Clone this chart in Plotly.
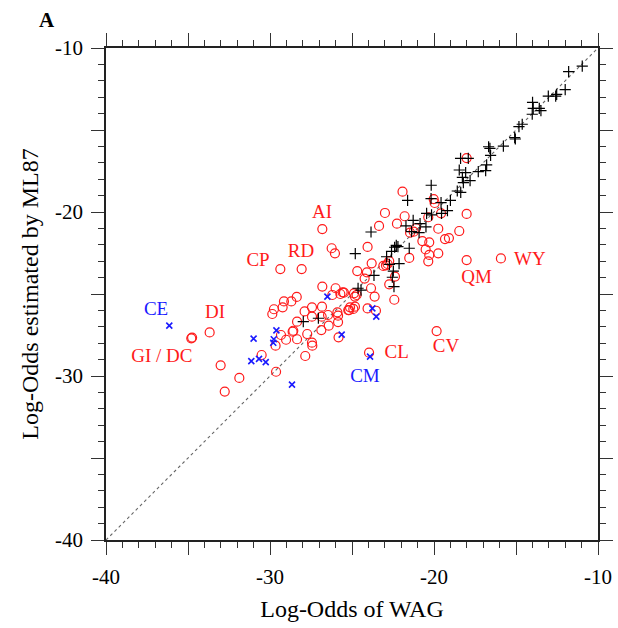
import plotly.graph_objects as go

# ---------------------------------------------------------------------------
# Data
# ---------------------------------------------------------------------------
# black "+" : pairs close to the diagonal
plus_x = [-10.96, -11.79, -12.00, -12.52, -12.58, -13.03, -13.99, -13.58, -13.48, -13.95,
          -14.01, -14.62, -14.82, -15.08, -15.04, -15.77, -16.67, -16.59, -16.55, -16.79,
          -16.85, -17.30, -18.38, -17.91, -18.46, -18.07, -18.27, -17.80, -18.21, -18.58,
          -18.37, -20.17, -20.18, -21.61, -19.57, -19.00, -19.18, -19.54, -20.45, -20.15,
          -21.27, -20.85, -21.71, -20.49, -20.91, -21.37, -23.84, -22.30, -22.20, -22.40,
          -22.59, -21.51, -24.80, -22.89, -22.13, -22.72, -22.48, -23.66, -22.54, -22.44,
          -24.63, -24.45, -27.97, -27.05]
plus_y = [-11.10, -11.44, -12.54, -12.83, -12.93, -12.93, -13.31, -13.68, -13.82, -13.68,
          -14.04, -14.65, -14.80, -15.47, -15.55, -15.98, -16.02, -16.12, -16.55, -17.13,
          -17.48, -17.54, -16.73, -16.73, -17.44, -17.60, -17.89, -18.09, -18.21, -18.72,
          -18.80, -18.37, -19.19, -19.29, -19.43, -19.29, -19.92, -20.08, -20.08, -20.18,
          -20.51, -20.71, -20.85, -20.91, -21.26, -21.20, -21.22, -22.03, -22.11, -22.15,
          -22.40, -22.21, -22.54, -22.73, -23.15, -23.19, -23.60, -23.86, -23.98, -24.55,
          -24.65, -24.76, -26.69, -26.48]

# red open circles
circ_x = [-26.81, -26.24, -26.04, -29.37, -28.07, -26.81, -26.00, -18.01, -21.92, -22.99,
          -21.79, -20.02, -19.96, -19.57, -18.01, -20.35, -22.26, -23.35, -21.10, -21.24,
          -21.46, -19.74, -18.46, -20.71, -20.29, -19.09, -19.33, -20.51, -19.74, -20.29,
          -21.51, -20.35, -24.05, -23.80, -24.68, -24.09, -24.23, -23.09, -22.83, -22.73,
          -22.93, -22.38, -22.73, -18.01, -15.92, -23.84,
          -34.80, -34.75, -33.68, -33.01, -31.87, -32.76, -30.51, -29.66, -29.63, -29.86,
          -29.76, -29.23, -29.15, -28.70, -28.37, -27.89, -28.35, -29.33, -29.02, -28.58,
          -28.62, -28.35, -27.73, -27.44, -27.42, -27.85, -27.44, -26.83, -26.20, -25.71,
          -25.49, -27.44, -26.85, -26.46, -25.89, -25.85, -25.85, -26.42, -26.87, -25.82,
          -25.18, -23.62, -24.88, -24.72, -24.82, -25.57, -25.12, -24.92, -24.82, -25.23,
          -24.05, -23.54, -22.42, -19.84, -23.96]
circ_y = [-21.04, -22.21, -22.52, -23.48, -23.48, -24.55, -24.65, -16.71, -18.76, -20.06,
          -20.26, -19.21, -19.45, -20.08, -20.12, -20.32, -20.71, -20.85, -20.99, -21.20,
          -21.26, -21.02, -21.16, -21.77, -21.85, -21.59, -21.65, -22.28, -22.52, -22.62,
          -22.80, -23.01, -22.13, -23.13, -23.60, -23.68, -24.06, -23.29, -23.17, -22.99,
          -23.25, -23.94, -24.41, -22.93, -22.83, -24.65,
          -27.70, -27.66, -27.34, -29.35, -30.12, -30.95, -28.72, -28.15, -29.74, -26.22,
          -25.93, -25.81, -25.45, -25.45, -25.18, -26.06, -26.69, -27.50, -27.79, -27.24,
          -27.30, -27.76, -27.44, -27.97, -28.15, -28.78, -25.81, -25.77, -25.06, -25.00,
          -24.92, -26.38, -26.38, -26.28, -26.12, -26.32, -26.71, -26.93, -27.20, -27.64,
          -25.98, -25.16, -24.96, -25.06, -25.16, -24.90, -25.81, -25.91, -25.77, -25.98,
          -25.88, -26.02, -25.35, -27.26, -28.58]

# blue "x"
cross_x = [-36.14, -31.00, -29.61, -29.77, -29.80, -31.14, -30.67, -30.26, -28.66, -26.50,
           -25.63, -23.76, -23.52, -23.90]
cross_y = [-26.93, -27.72, -27.22, -27.76, -27.97, -29.09, -28.96, -29.15, -30.53, -25.16,
           -27.48, -25.88, -26.38, -28.82]

# labels
red_labels = ["AI", "RD", "CP", "DI", "GI / DC", "CL", "CV", "QM", "WY"]
red_lab_x = [-26.83, -28.11, -30.73, -33.35, -36.59, -22.28, -19.27, -17.40, -14.15]
red_lab_y = [-20.06, -22.44, -22.99, -26.16, -28.84, -28.62, -28.25, -24.04, -22.93]
blue_labels = ["CE", "CM"]
blue_lab_x = [-36.95, -24.21]
blue_lab_y = [-25.98, -30.06]

SERIF = "Liberation Serif, Times New Roman, serif"

fig = go.Figure()

# diagonal y = x
fig.add_trace(go.Scatter(
    x=[-40, -10], y=[-40, -10], mode="lines",
    line=dict(color="#666", width=1.1, dash="dot"),
    hoverinfo="skip", showlegend=False,
))

fig.add_trace(go.Scatter(
    x=circ_x, y=circ_y, mode="markers",
    marker=dict(symbol="circle-open", size=9, color="#ff1a1a", line=dict(width=1.2)),
    showlegend=False,
))
fig.add_trace(go.Scatter(
    x=plus_x, y=plus_y, mode="markers",
    marker=dict(symbol="cross-thin-open", size=8, color="black", line=dict(width=1.2, color="black")),
    showlegend=False,
))
fig.add_trace(go.Scatter(
    x=cross_x, y=cross_y, mode="markers",
    marker=dict(symbol="x-thin-open", size=6, color="#1a1aff", line=dict(width=1.6, color="#1a1aff")),
    showlegend=False,
))

fig.add_trace(go.Scatter(
    x=red_lab_x, y=red_lab_y, mode="text", text=red_labels,
    textfont=dict(family=SERIF, size=19, color="#ff1a1a"),
    hoverinfo="skip", showlegend=False,
))
fig.add_trace(go.Scatter(
    x=blue_lab_x, y=blue_lab_y, mode="text", text=blue_labels,
    textfont=dict(family=SERIF, size=19, color="#1a1aff"),
    hoverinfo="skip", showlegend=False,
))

major_vals = [-40, -35, -30, -25, -20, -15, -10]
major_text = ["-40", "", "-30", "", "-20", "", "-10"]

axis_common = dict(
    range=[-40, -10],
    tickmode="array", tickvals=major_vals, ticktext=major_text,
    ticks="outside", ticklen=13, tickwidth=1.3, tickcolor="#333",
    minor=dict(dtick=1, ticks="outside", ticklen=6, tickwidth=1.3, tickcolor="#333", showgrid=False),
    showline=True, linecolor="#222", linewidth=1.6, mirror="allticks",
    showgrid=False, zeroline=False, automargin=False,
    tickfont=dict(family=SERIF, size=21, color="black"),
    ticklabelstandoff=4,
)

fig.update_layout(
    width=618, height=628,
    margin=dict(l=106, r=20, t=48, b=88),
    paper_bgcolor="white", plot_bgcolor="white",
    xaxis=dict(axis_common, title=dict(text="Log-Odds of WAG", font=dict(family=SERIF, size=24, color="black"), standoff=12)),
    yaxis=dict(axis_common, title=dict(text="Log-Odds estimated by ML87", font=dict(family=SERIF, size=24, color="black"), standoff=10)),
    annotations=[dict(
        text="<b>A</b>", xref="paper", yref="paper", showarrow=False,
        x=(47 - 106) / 492, y=1 + (48 - 20) / 492, xanchor="center", yanchor="middle",
        font=dict(family=SERIF, size=21, color="black"),
    )],
)

# drop the page's default 8px body margin so the figure fills the window
fig.write_html(
    "out.html",
    config={"displayModeBar": False},
    post_script="document.body.style.margin='0';document.body.style.overflow='hidden';",
)
